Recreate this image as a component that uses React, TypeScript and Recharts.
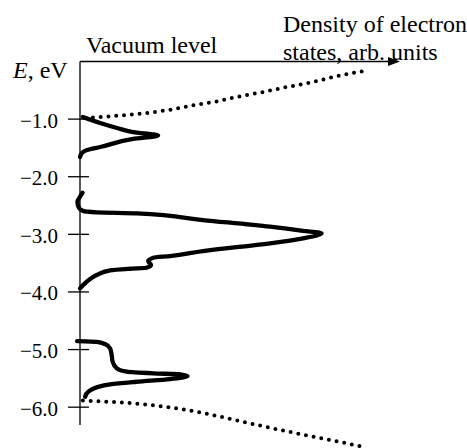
import React from 'react';
import { ComposedChart, Scatter, XAxis, YAxis, ReferenceLine, ReferenceDot } from 'recharts';

const WIDTH = 467;
const HEIGHT = 448;
const FONT = "'Liberation Serif', 'Times New Roman', serif";
const INK = '#000';

// Energy axis ticks (eV)
const ENERGY_TICKS = [-1, -2, -3, -4, -5, -6];
const TICK_LABELS = ['\u22121.0', '\u22122.0', '\u22123.0', '\u22124.0', '\u22125.0', '\u22126.0'];

// Upper band (around -1.3 eV), traced top to bottom
const band1Density = [0.9, 6.3, 11.6, 16.6, 24.4, 16.6, 6.3, 2.2, 0.6, 0];
const band1Energy = [-0.964, -1.068, -1.155, -1.224, -1.285, -1.345, -1.484, -1.536, -1.589, -1.658];

// Main band (around -3.0 eV)
const band2Density = [
  0.8, 0, -0.8, -0.5, 1.0, 5.2, 17.7, 38.4, 59.4, 69.7, 75.5, 69.7, 59.4, 38.4, 28.1, 22.9, 21.3,
  22.2, 20.8, 15.6, 9.4, 5.2, 2.1, 0,
];
const band2Energy = [
  -2.278, -2.347, -2.434, -2.521, -2.595, -2.618, -2.635, -2.752, -2.868, -2.938, -2.983, -3.069,
  -3.156, -3.29, -3.377, -3.406, -3.464, -3.533, -3.58, -3.597, -3.625, -3.707, -3.823, -3.938,
];

// Lower band (around -5.5 eV)
const band3Density = [-0.9, 5.2, 7.8, 9.4, 9.9, 10.2, 11.5, 14.6, 22.9, 31.3, 33.6, 28.1, 17.7, 9.4, 5.2, 2.6, 1.6];
const band3Energy = [
  -4.852, -4.865, -4.905, -4.979, -5.095, -5.212, -5.326, -5.385, -5.413, -5.431, -5.46, -5.512,
  -5.559, -5.604, -5.656, -5.733, -5.819,
];

// Continuum above -1 eV (dotted)
const upperTailDensity = [1.6, 6.3, 13.4, 20.9, 28.1, 35.3, 42.8, 50, 57.2, 64.7, 71.9, 79.1, 88.4];
const upperTailEnergy = [
  -0.981, -0.964, -0.934, -0.894, -0.837, -0.76, -0.691, -0.604, -0.53, -0.443, -0.368, -0.269, -0.17,
];

// Continuum below -5.9 eV (dotted)
const lowerTailDensity = [0.9, 10.3, 20.9, 31.3, 39.7, 47.8, 58.4, 68.8, 79.1, 88.1];
const lowerTailEnergy = [-5.885, -5.911, -5.955, -6.03, -6.116, -6.215, -6.345, -6.467, -6.58, -6.684];

const toPoints = (dos: number[], energy: number[]) => dos.map((d, i) => ({ dos: d, e: energy[i] }));

const band1 = toPoints(band1Density, band1Energy);
const band2 = toPoints(band2Density, band2Energy);
const band3 = toPoints(band3Density, band3Energy);
const upperTail = toPoints(upperTailDensity, upperTailEnergy);
const lowerTail = toPoints(lowerTailDensity, lowerTailEnergy);

const noDot = () => <g />;

const solidLine = { stroke: INK, strokeWidth: 4.3, strokeLinecap: 'round', strokeLinejoin: 'round' };
const dottedLine = { stroke: INK, strokeWidth: 4, strokeLinecap: 'round', strokeDasharray: '0 7.8' };

function TickLabel({ viewBox, text }: any) {
  if (!viewBox) return null;
  return (
    <text
      x={viewBox.x - 10}
      y={viewBox.y + 8.5}
      textAnchor="end"
      style={{ fontFamily: FONT, fontSize: 21 }}
      fill={INK}
    >
      {text}
    </text>
  );
}

const ArrowHead = (props: any) => {
  const { cx, cy } = props;
  return <polygon points={`${cx},${cy} ${cx - 12},${cy - 4.5} ${cx - 12},${cy + 4.5}`} fill={INK} />;
};

export default function App() {
  return (
    <div style={{ position: 'absolute', left: 0, top: 0, width: WIDTH, height: HEIGHT, overflow: 'hidden', background: '#fff' }}>
      <ComposedChart width={WIDTH} height={HEIGHT} margin={{ top: 61.5, right: 67, bottom: 0.5, left: 0 }}>
        <XAxis type="number" dataKey="dos" domain={[-25, 100]} hide />
        <YAxis type="number" dataKey="e" domain={[-6.7, 0]} hide />

        {/* energy axis and density axis (with arrow) */}
        <ReferenceLine segment={[{ x: 0, y: 0 }, { x: 0, y: -6.31 }]} stroke={INK} strokeWidth={1.3} />
        <ReferenceLine segment={[{ x: 0, y: 0 }, { x: 97, y: 0 }]} stroke={INK} strokeWidth={1.3} />
        <ReferenceDot x={100} y={0} shape={ArrowHead} />

        {ENERGY_TICKS.map((t, i) => (
          <ReferenceLine
            key={t}
            segment={[{ x: -3.75, y: t }, { x: 2.8, y: t }]}
            stroke={INK}
            strokeWidth={1.3}
            label={<TickLabel text={TICK_LABELS[i]} />}
          />
        ))}

        <Scatter data={upperTail} line={dottedLine} lineJointType="monotoneX" shape={noDot} isAnimationActive={false} />
        <Scatter data={lowerTail} line={dottedLine} lineJointType="monotoneX" shape={noDot} isAnimationActive={false} />
        <Scatter data={band1} line={solidLine} lineJointType="monotoneY" shape={noDot} isAnimationActive={false} />
        <Scatter data={band2} line={solidLine} lineJointType="monotoneY" shape={noDot} isAnimationActive={false} />
        <Scatter data={band3} line={solidLine} lineJointType="monotoneY" shape={noDot} isAnimationActive={false} />
      </ComposedChart>

      <svg
        width={WIDTH}
        height={HEIGHT}
        style={{ position: 'absolute', left: 0, top: 0, pointerEvents: 'none', fontFamily: FONT, fontSize: 24 }}
        fill={INK}
      >
        <text x={13} y={78}>
          <tspan fontStyle="italic">E</tspan>, eV
        </text>
        <text x={86} y={53}>Vacuum level</text>
        <text x={283} y={32}>Density of electron</text>
        <text x={283} y={60}>states, arb. units</text>
      </svg>
    </div>
  );
}
